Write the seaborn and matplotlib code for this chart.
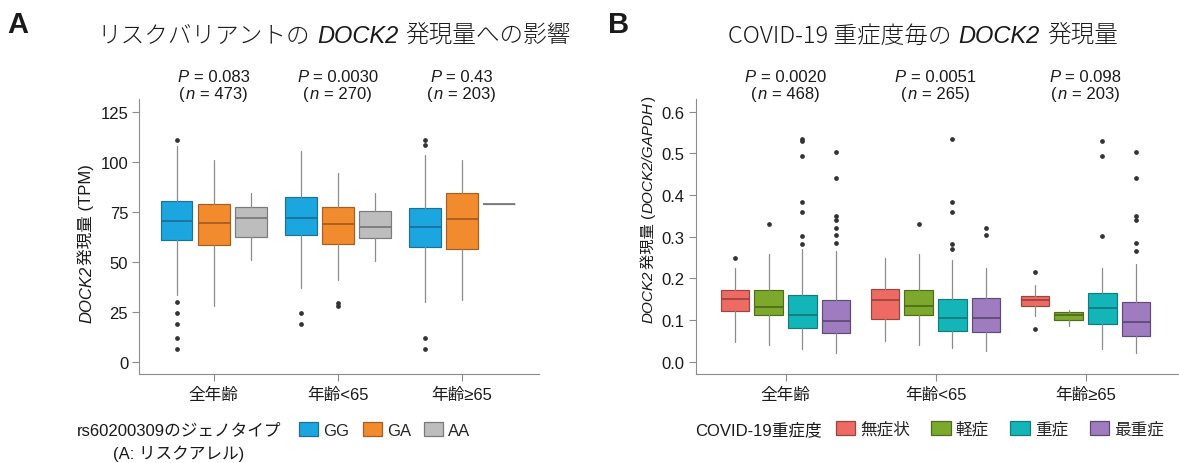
import matplotlib
matplotlib.use("Agg")
import matplotlib.pyplot as plt
import matplotlib.transforms as mtransforms
from matplotlib.patches import Patch
import seaborn as sns

# ==========================================
# データ (図から読み取った箱ひげ図の統計量)
# ==========================================
age_groups = ['全年齢', '年齢<65', '年齢≥65']

# A: rs60200309 ジェノタイプ別 (行 = 年齢群, 列 = GG, GA, AA)
genotypes = ['GG', 'GA', 'AA']
a_p_text = ['0.083', '0.0030', '0.43']
a_n_text = ['473', '270', '203']
a_q1 = [[61.2, 58.8, 62.7], [63.8, 59.0, 62.0], [57.7, 56.5, 79.0]]
a_med = [[70.5, 69.5, 72.0], [72.2, 69.0, 67.8], [67.7, 71.5, 79.0]]
a_q3 = [[80.5, 79.3, 77.8], [82.8, 77.5, 75.5], [77.2, 84.5, 79.0]]
a_lo = [[33.6, 28.3, 51.0], [37.0, 41.2, 50.8], [30.3, 31.2, 79.0]]
a_hi = [[108.3, 101.2, 84.5], [105.8, 94.7, 84.5], [103.7, 101.2, 79.0]]
a_fliers = [[[111.2, 30.3, 24.6, 19.0, 12.3, 6.7], [], []],
            [[24.6, 19.0], [29.7, 28.0], []],
            [[111.3, 108.5, 12.3, 6.7], [], []]]

# B: COVID-19 重症度別 (行 = 年齢群, 列 = 無症状, 軽症, 重症, 最重症)
severity = ['無症状', '軽症', '重症', '最重症']
b_p_text = ['0.0020', '0.0051', '0.098']
b_n_text = ['468', '265', '203']
b_q1 = [[0.122, 0.112, 0.081, 0.068], [0.1025, 0.113, 0.073, 0.0705], [0.133, 0.099, 0.090, 0.0617]]
b_med = [[0.150, 0.131, 0.113, 0.097], [0.147, 0.133, 0.105, 0.104], [0.148, 0.112, 0.130, 0.0945]]
b_q3 = [[0.171, 0.171, 0.160, 0.148], [0.1745, 0.171, 0.150, 0.152], [0.158, 0.120, 0.166, 0.143]]
b_lo = [[0.048, 0.040, 0.030, 0.021], [0.049, 0.040, 0.033, 0.026], [0.110, 0.085, 0.030, 0.020]]
b_hi = [[0.224, 0.258, 0.270, 0.266], [0.248, 0.258, 0.245, 0.225], [0.183, 0.125, 0.226, 0.234]]
b_fliers = [[[0.249], [0.330], [0.535, 0.530, 0.494, 0.383, 0.359, 0.302, 0.283],
             [0.504, 0.441, 0.350, 0.341, 0.320, 0.305, 0.285]],
            [[], [0.330], [0.534, 0.383, 0.359, 0.283, 0.270], [0.320, 0.305]],
            [[0.215, 0.079], [], [0.530, 0.494, 0.302], [0.504, 0.442, 0.350, 0.341, 0.285, 0.266]]]

a_face = ['#1BA6DF', '#F28A2E', '#BDBDBD']
a_edge = ['#206F99', '#A65E23', '#7A7A7A']
b_face = ['#EE6B63', '#7CA92B', '#14B5B9', '#9E7CBF']
b_edge = ['#9B4540', '#4F6B1D', '#137A7D', '#5D4A75']

GREY = '#8c8c8c'
TXT = '#1a1a1a'

# ==========================================
# スタイル
# ==========================================
sns.set_style('ticks')
plt.rcParams['font.family'] = ['Liberation Sans', 'Noto Sans CJK JP', 'DejaVu Sans']
plt.rcParams['axes.edgecolor'] = GREY
plt.rcParams['axes.linewidth'] = 0.8
plt.rcParams['xtick.color'] = GREY
plt.rcParams['ytick.color'] = GREY
plt.rcParams['xtick.labelcolor'] = TXT
plt.rcParams['ytick.labelcolor'] = TXT

fig = plt.figure(figsize=(11.79, 4.64), dpi=100)
axA = fig.add_axes([139.3 / 1179, 89 / 464, 399.3 / 1179, 275 / 464])
axB = fig.add_axes([695.5 / 1179, 89 / 464, 483 / 1179, 275 / 464])


def rich(x, y, parts, transform, size, rotation=0, ha='center', family=None, weight='normal'):
    # 斜体と通常体を混ぜた文字列を並べて描く
    r = fig.canvas.get_renderer()
    em = size * fig.dpi / 72.0
    made = []
    total = 0.0
    for i, (s, it) in enumerate(parts):
        lead = (len(s) - len(s.lstrip(' '))) * 0.22 * em
        trail = (len(s) - len(s.rstrip(' '))) * 0.22 * em
        if i > 0:
            lead += 0.07 * em
        kw = dict(fontsize=size, rotation=rotation, rotation_mode='anchor',
                  ha='left', va='baseline', color=TXT)
        if it:
            kw.update(family='Liberation Sans', style='italic')
        elif family:
            kw.update(family=family, weight=weight)
        t = fig.text(0, 0, s.strip(' '), transform=transform, **kw)
        bb = t.get_window_extent(r)
        w = bb.height if rotation else bb.width
        made.append((t, total + lead))
        total += lead + w + trail
    start = -total / 2 if ha == 'center' else 0.0
    for t, off in made:
        d = start + off
        if rotation:
            t.set_transform(mtransforms.offset_copy(transform, fig=fig, x=0, y=d, units='dots'))
        else:
            t.set_transform(mtransforms.offset_copy(transform, fig=fig, x=d, y=0, units='dots'))
        t.set_position((x, y))


def draw_panel(ax, q1, med, q3, lo, hi, fliers, offsets, width, faces, edges):
    for g in range(len(age_groups)):
        for k in range(len(faces)):
            st = dict(q1=q1[g][k], med=med[g][k], q3=q3[g][k],
                      whislo=lo[g][k], whishi=hi[g][k], fliers=fliers[g][k])
            ax.bxp([st], positions=[g + offsets[k]], widths=width, patch_artist=True,
                   showcaps=False, manage_ticks=False,
                   boxprops=dict(facecolor=faces[k], edgecolor=edges[k], linewidth=0.85),
                   medianprops=dict(color=edges[k], linewidth=1.3),
                   whiskerprops=dict(color=GREY, linewidth=0.9),
                   flierprops=dict(marker='o', markersize=2.4, markerfacecolor='#333333',
                                   markeredgecolor='#333333'))
    ax.set_xlim(-0.6, 2.62)
    ax.set_xticks(range(len(age_groups)))
    ax.set_xticklabels(age_groups)
    sns.despine(ax=ax)
    ax.tick_params(axis='both', length=5, width=0.8, labelsize=12)
    ax.tick_params(axis='x', pad=4)
    ax.tick_params(axis='y', pad=3)


# ==========================================
# A: リスクバリアント
# ==========================================
draw_panel(axA, a_q1, a_med, a_q3, a_lo, a_hi, a_fliers,
           [-0.3, 0.0, 0.3], 0.258, a_face, a_edge)
axA.set_ylim(-5.85, 131.65)
axA.set_yticks([0, 25, 50, 75, 100, 125])

# ==========================================
# B: COVID-19 重症度
# ==========================================
draw_panel(axB, b_q1, b_med, b_q3, b_lo, b_hi, b_fliers,
           [-0.338, -0.113, 0.113, 0.338], 0.19, b_face, b_edge)
axB.set_ylim(-0.0295, 0.6305)
axB.set_yticks([0.0, 0.1, 0.2, 0.3, 0.4, 0.5, 0.6])
axB.set_yticklabels(['0.0', '0.1', '0.2', '0.3', '0.4', '0.5', '0.6'])

# P値と n
for ax, ptxt, ntxt in [(axA, a_p_text, a_n_text), (axB, b_p_text, b_n_text)]:
    bt = mtransforms.blended_transform_factory(ax.transData, ax.transAxes)
    for g in range(len(age_groups)):
        rich(g, 1.0655, [('P', True), (' = ' + ptxt[g], False)], bt, 12)
        rich(g, 1.0036, [('(', False), ('n', True), (' = ' + ntxt[g] + ')', False)], bt, 12)

# 縦軸ラベル
rich(-0.121, 0.189, [('DOCK2', True), ('発現量 (TPM)', False)], axA.transAxes, 12,
     rotation=90, ha='left')
rich(-0.088, 0.189, [('DOCK2', True), ('発現量 (', False), ('DOCK2/GAPDH', True), (')', False)],
     axB.transAxes, 11, rotation=90, ha='left')

# タイトル
title_font = ['Noto Sans CJK JP', 'DejaVu Sans']
rich(334 / 1179, 0.9073, [('リスクバリアントの ', False), ('DOCK2', True), (' 発現量への影響', False)],
     fig.transFigure, 17, family=title_font, weight='light')
rich(923 / 1179, 0.9073, [('COVID-19 重症度毎の ', False), ('DOCK2', True), (' 発現量', False)],
     fig.transFigure, 17, family=title_font, weight='light')

fig.text(7 / 1179, 0.9289, 'A', fontsize=21, fontweight='bold', color=TXT, va='baseline')
fig.text(608 / 1179, 0.9289, 'B', fontsize=21, fontweight='bold', color=TXT, va='baseline')

# ==========================================
# 凡例
# ==========================================
leg_kw = dict(frameon=False, fontsize=12, borderpad=0, borderaxespad=0,
              handlelength=1.15, handleheight=0.85, handletextpad=0.3, loc='center left')
hA = [Patch(facecolor=a_face[k], edgecolor=a_edge[k], linewidth=0.9) for k in range(3)]
fig.legend(hA, genotypes, ncol=3, columnspacing=0.8,
           bbox_to_anchor=(299 / 1179, 33 / 464), **leg_kw)
fig.text(179 / 1179, 33 / 464, 'rs60200309のジェノタイプ', fontsize=12, color=TXT,
         ha='center', va='center')
fig.text(179 / 1179, 10 / 464, '(A: リスクアレル)', fontsize=12, color=TXT,
         ha='center', va='center')

hB = [Patch(facecolor=b_face[k], edgecolor=b_edge[k], linewidth=0.9) for k in range(4)]
fig.legend(hB, severity, ncol=4, columnspacing=1.3,
           bbox_to_anchor=(835.7 / 1179, 34 / 464), **leg_kw)
fig.text(695 / 1179, 34 / 464, 'COVID-19重症度', fontsize=12, color=TXT,
         ha='left', va='center')

fig.savefig('out.png', dpi=100, facecolor='white')
